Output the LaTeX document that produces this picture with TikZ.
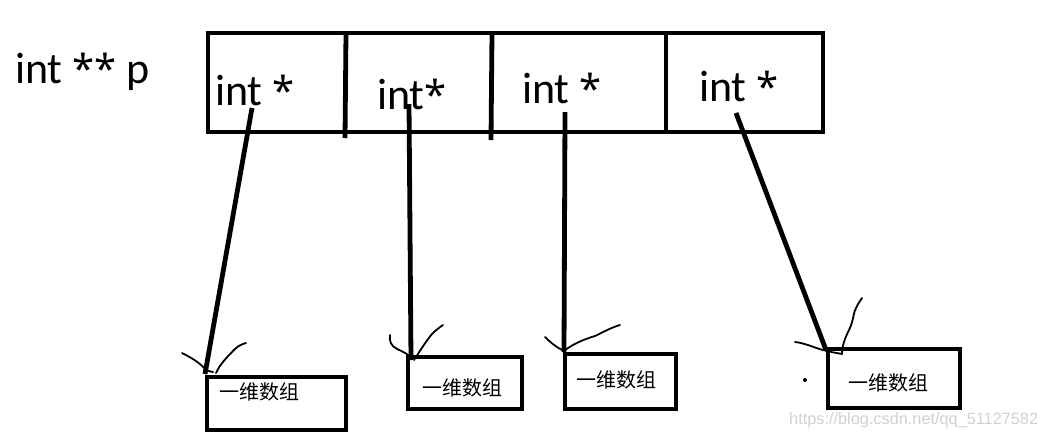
\documentclass[tikz,border=0pt]{standalone}
\usepackage{fontspec}
\setmainfont{Carlito}
\newfontfamily\cjk{Noto Sans CJK SC}
\newfontfamily\wm{Liberation Sans}
\newfontfamily\starfont{Noto Sans}
\newcommand\ptrstar{{\starfont\fontsize{40}{40}\selectfont *}}
\begin{document}
\begin{tikzpicture}[x=1pt,y=-1pt,
  thickline/.style={line width=4.8pt},
  boxline/.style={line width=4.2pt},
  squiggle/.style={line width=1.8pt,line cap=round,line join=round},
  cell/.style={anchor=base west,inner sep=0pt,font=\fontsize{44}{44}\selectfont},
  cjklabel/.style={inner sep=0pt,font=\cjk\fontsize{20}{20}\selectfont}]
\useasboundingbox (0,0) rectangle (1043,437);
% label
\node[cell] (p) at (15,83) {int \ptrstar\ptrstar\ p};
% main rectangle
\draw[thickline] (208,33) rectangle (823,132);
\draw[thickline] (346,33) -- (345,138);
\draw[thickline] (492,33) -- (491,140);
\draw[thickline] (666,33) -- (666,132);
\node[cell] (c1) at (215,105) {int \ptrstar};
\node[cell] (c2) at (377,109) {int\ptrstar};
\node[cell] (c3) at (522,103) {int \ptrstar};
\node[cell] (c4) at (699,101) {int \ptrstar};
% boxes
\draw[boxline] (207,377) rectangle (346,430);
\draw[boxline] (408,357) rectangle (522,409);
\draw[boxline] (565,354) rectangle (676,409);
\draw[boxline] (828,349) rectangle (960,408);
\node[cjklabel] (b1) at (259,392) {一维数组};
\node[cjklabel] (b2) at (462,388) {一维数组};
\node[cjklabel] (b3) at (616,380) {一维数组};
\node[cjklabel] (b4) at (888,383) {一维数组};
% pointer start / end coordinates
\coordinate (s1) at (252,108);
\coordinate (e1) at (205,374);
\coordinate (s2) at (409,104);
\coordinate (e2) at (411,360);
\coordinate (s3) at (565,112);
\coordinate (e3) at (564,352);
\coordinate (s4) at (736,113);
\coordinate (e4) at (826,350);
\draw[thickline] (s1) -- (e1);
\draw[thickline] (s2) -- (e2);
\draw[thickline] (s3) -- (e3);
\draw[thickline] (s4) -- (e4);
% hand drawn arrow heads
\draw[squiggle] (182,353) .. controls (192,358) and (200,363) .. (205,369) .. controls (208,371) and (211,372) .. (213,372);
\draw[squiggle] (216,373) .. controls (220,364) and (228,356) .. (235,349) .. controls (239,345) and (243,344) .. (246,343);
\draw[squiggle] (390,335) .. controls (389,341) and (391,346) .. (397,349) .. controls (404,352) and (409,355) .. (412,358);
\draw[squiggle] (414,360) .. controls (420,351) and (426,341) .. (432,334) .. controls (436,330) and (440,327) .. (443,325);
\draw[squiggle] (545,337) .. controls (550,342) and (556,347) .. (562,350);
\draw[squiggle] (565,350) .. controls (575,343) and (585,339) .. (595,336) .. controls (605,331) and (613,327) .. (620,325);
\draw[squiggle] (795,342) .. controls (805,343) and (815,348) .. (823,350) .. controls (830,352) and (837,353) .. (842,354);
\draw[squiggle] (842,354) .. controls (842,346) and (845,338) .. (849,330) .. controls (854,320) and (853,312) .. (857,306) .. controls (859,302) and (861,300) .. (862,298);
\fill (805,380) circle (2);
% watermark
\node[anchor=base west,inner sep=0pt,text=black!18,font=\wm\fontsize{16.3}{16.3}\selectfont] (wm) at (789,424) {https://blog.csdn.net/qq\_51127582};
\end{tikzpicture}
\end{document}
